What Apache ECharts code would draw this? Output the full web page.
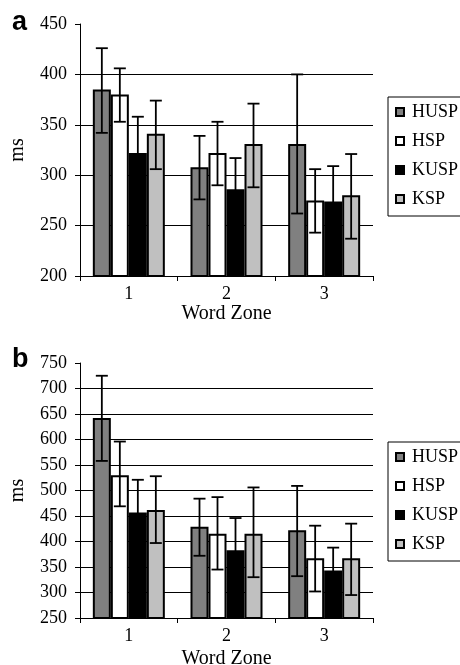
<!DOCTYPE html>
<html lang="en">
<head>
    <meta charset="UTF-8">
    <title>Word Zone</title>
    <script src="https://cdn.jsdelivr.net/npm/echarts@6/dist/echarts.min.js"></script>
    <style>
      html, body { margin: 0; padding: 0; background: #fff; }
    </style>
</head>
<body>
<div id="main" style="width: 460px;height:665px;"></div>

<script type="text/javascript">
  // data
  var categories = ['1', '2', '3'];
  var seriesNames = ['HUSP', 'HSP', 'KUSP', 'KSP'];
  var colors = ['#808080', '#ffffff', '#000000', '#c0c0c0'];

  // panel a (means, upper and lower error limits, per series)
  var aMean  = [[385, 308, 331], [380, 322, 275], [322, 286, 274], [341, 331, 280]];
  var aUpper = [[426, 339, 400], [406, 353, 306], [358, 317, 309], [374, 371, 321]];
  var aLower = [[342, 276, 262], [353, 290, 243], [286, 255, 238], [306, 288, 237]];
  var aTicks = { min: 200, max: 450, step: 50 };

  // panel b
  var bMean  = [[642, 429, 422], [530, 415, 367], [457, 383, 343], [462, 415, 367]];
  var bUpper = [[725, 484, 509], [596, 487, 431], [521, 446, 388], [528, 506, 435]];
  var bLower = [[558, 372, 332], [469, 345, 302], [393, 320, 298], [397, 330, 295]];
  var bTicks = { min: 250, max: 750, step: 50 };

  var serif = 'Liberation Serif';
  var barW = 18;

  var myChart = echarts.init(document.getElementById('main'));

  function errData(upper, lower) {
    var res = [];
    for (var s = 0; s < upper.length; s++) {
      for (var c = 0; c < upper[s].length; c++) {
        res.push([c, s, lower[s][c], upper[s][c]]);
      }
    }
    return res;
  }

  function renderErr(params, api) {
    var c = api.value(0), s = api.value(1);
    var lo = api.coord([c, api.value(2)]);
    var hi = api.coord([c, api.value(3)]);
    var x = lo[0] + (s - 1.5) * barW;
    var st = { stroke: '#000', lineWidth: 1.8 };
    return {
      type: 'group',
      children: [
        { type: 'line', shape: { x1: x, y1: lo[1], x2: x, y2: hi[1] }, style: st },
        { type: 'line', shape: { x1: x - 6, y1: hi[1], x2: x + 6, y2: hi[1] }, style: st },
        { type: 'line', shape: { x1: x - 6, y1: lo[1], x2: x + 6, y2: lo[1] }, style: st }
      ]
    };
  }

  function xAxisFor(idx) {
    return {
      type: 'category',
      gridIndex: idx,
      data: categories,
      name: 'Word Zone',
      nameLocation: 'middle',
      nameGap: idx === 0 ? 27 : 31,
      nameTextStyle: { fontFamily: serif, fontSize: 20, color: '#000' },
      axisLine: { lineStyle: { color: '#000', width: 1 } },
      axisTick: { show: true, length: 5, lineStyle: { color: '#000' } },
      axisLabel: { fontFamily: serif, fontSize: 18, color: '#000', margin: 9 },
      splitLine: { show: false }
    };
  }

  function yAxisFor(idx, t) {
    return {
      type: 'value',
      gridIndex: idx,
      min: t.min,
      max: t.max,
      interval: t.step,
      name: 'ms',
      nameLocation: 'middle',
      nameRotate: 90,
      nameGap: 52,
      nameTextStyle: { fontFamily: serif, fontSize: 20, color: '#000' },
      axisLine: { show: true, lineStyle: { color: '#000', width: 1 } },
      axisTick: { show: true, length: 5, lineStyle: { color: '#000' } },
      axisLabel: { fontFamily: serif, fontSize: 18, color: '#000', margin: 13 },
      splitLine: { show: true, showMaxLine: false, lineStyle: { color: '#000', width: 1 } }
    };
  }

  function legendFor(top) {
    return {
      data: seriesNames,
      orient: 'vertical',
      left: 388,
      top: top,
      padding: [6, 4, 8, 7],
      itemGap: 11,
      itemWidth: 8,
      itemHeight: 8,
      icon: 'rect',
      borderColor: '#000',
      borderWidth: 1,
      backgroundColor: '#fff',
      selectedMode: false,
      textStyle: { fontFamily: serif, fontSize: 18, color: '#000', padding: [0, 0, 0, 3] }
    };
  }

  var series = [];
  var panels = [[aMean, aUpper, aLower], [bMean, bUpper, bLower]];
  panels.forEach(function (p, idx) {
    for (var s = 0; s < seriesNames.length; s++) {
      series.push({
        name: seriesNames[s],
        type: 'bar',
        xAxisIndex: idx,
        yAxisIndex: idx,
        barWidth: barW,
        barGap: '0%',
        data: p[0][s],
        itemStyle: { color: colors[s], borderColor: '#000', borderWidth: 2 },
        animation: false
      });
    }
    series.push({
      name: 'err' + idx,
      type: 'custom',
      xAxisIndex: idx,
      yAxisIndex: idx,
      z: 5,
      data: errData(p[1], p[2]),
      renderItem: renderErr,
      animation: false
    });
  });

  option = {
    animation: false,
    title: [
      { text: 'a', left: 12, top: 9, padding: 0,
        textStyle: { fontFamily: 'Liberation Sans', fontWeight: 'bold', fontSize: 27, color: '#000' } },
      { text: 'b', left: 12, top: 346, padding: 0,
        textStyle: { fontFamily: 'Liberation Sans', fontWeight: 'bold', fontSize: 27, color: '#000' } }
    ],
    legend: [legendFor(97), legendFor(442)],
    grid: [
      { left: 80, top: 24, width: 293, height: 252, outerBoundsMode: 'none' },
      { left: 80, top: 363, width: 293, height: 255, outerBoundsMode: 'none' }
    ],
    xAxis: [xAxisFor(0), xAxisFor(1)],
    yAxis: [yAxisFor(0, aTicks), yAxisFor(1, bTicks)],
    series: series
  };

  myChart.setOption(option);
</script>

</body>
</html>
